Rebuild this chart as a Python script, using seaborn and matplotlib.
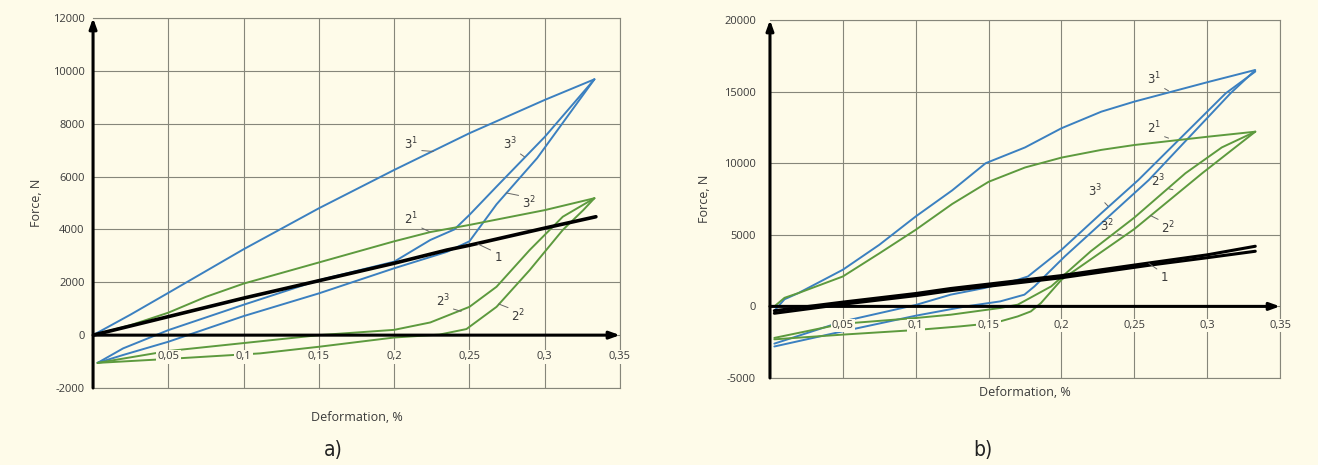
import matplotlib
matplotlib.use("Agg")
import matplotlib.pyplot as plt
import numpy as np
import pandas as pd
import seaborn as sns

sns.set_theme(style="white")
plt.rcParams["font.family"] = ["Open Sans", "DejaVu Sans"]
plt.rcParams["mathtext.fontset"] = "dejavusans"

BG = "#fefbe9"
BLUE = "#3b80c0"
GREEN = "#5d9a3e"
GRID = "#86867a"
TXT = "#3a3a3a"

# ---------------- data: panel a ----------------
a_x1 = [0, 0.05, 0.1, 0.15, 0.2, 0.235, 0.25, 0.3, 0.334]
a_f1 = [0, 700, 1400, 2060, 2720, 3220, 3400, 4050, 4480]

a_x31 = [0, 0.025, 0.05, 0.1, 0.15, 0.2, 0.25, 0.3, 0.333]
a_f31 = [0, 780, 1600, 3250, 4800, 6250, 7640, 8900, 9680]

a_x33 = [0.003, 0.02, 0.05, 0.1, 0.15, 0.2, 0.224, 0.24, 0.25, 0.268, 0.3, 0.333]
a_f33 = [-1050, -500, 190, 1150, 2080, 2780, 3600, 4000, 4550, 5620, 7500, 9680]

a_x32 = [0.333, 0.295, 0.268, 0.25, 0.235, 0.2, 0.15, 0.1, 0.05, 0.02, 0.003]
a_f32 = [9680, 6700, 4950, 3550, 3150, 2530, 1580, 720, -250, -750, -1050]

a_x21 = [0, 0.025, 0.05, 0.075, 0.1, 0.15, 0.2, 0.224, 0.25, 0.3, 0.333]
a_f21 = [0, 380, 850, 1450, 1950, 2750, 3550, 3900, 4170, 4730, 5180]

a_x22 = [0.333, 0.3256, 0.312, 0.29, 0.268, 0.248, 0.23, 0.2, 0.15, 0.111, 0.05, 0.003]
a_f22 = [5180, 4730, 3980, 2460, 1070, 230, 20, -90, -440, -690, -900, -1050]

a_x23 = [0.003, 0.05, 0.1, 0.15, 0.2, 0.224, 0.25, 0.268, 0.29, 0.312, 0.333]
a_f23 = [-1050, -600, -300, 0, 200, 480, 1070, 1830, 3220, 4480, 5180]

# ---------------- data: panel b ----------------
b_x1 = [0.003, 0.05, 0.1, 0.124, 0.2, 0.2274, 0.262, 0.3, 0.333]
b_f1 = [-300, 300, 900, 1250, 2150, 2560, 3060, 3600, 4200]
b_f1b = [-480, 150, 750, 1100, 2000, 2400, 2900, 3400, 3850]

b_x31 = [0.003, 0.01, 0.0195, 0.05, 0.075, 0.1, 0.125, 0.148, 0.175, 0.2, 0.2274, 0.25, 0.3014, 0.3326]
b_f31 = [-300, 500, 930, 2560, 4300, 6280, 8100, 10000, 11100, 12440, 13600, 14300, 15690, 16500]

b_x21 = [0.003, 0.01, 0.0195, 0.05, 0.075, 0.1, 0.125, 0.15, 0.175, 0.2, 0.2274, 0.25, 0.3014, 0.333]
b_f21 = [0, 600, 930, 2090, 3700, 5350, 7150, 8700, 9700, 10390, 10930, 11270, 11860, 12200]

b_x33 = [0.003, 0.05, 0.1, 0.124, 0.147, 0.17, 0.177, 0.2, 0.2274, 0.2528, 0.3127, 0.333]
b_f33 = [-2600, -1050, 100, 820, 1280, 1860, 2090, 3950, 6510, 8830, 14880, 16400]

b_x32 = [0.333, 0.316, 0.26, 0.2023, 0.1815, 0.1746, 0.158, 0.1345, 0.1, 0.05, 0.003]
b_f32 = [16500, 14880, 8830, 3490, 1400, 820, 350, 0, -650, -1740, -2800]

b_x23 = [0.003, 0.05, 0.1, 0.124, 0.158, 0.17, 0.193, 0.22, 0.25, 0.2851, 0.31, 0.333]
b_f23 = [-2200, -1210, -810, -580, -110, 120, 1400, 3840, 6200, 9300, 11100, 12200]

b_x22 = [0.333, 0.2966, 0.25, 0.2, 0.186, 0.179, 0.17, 0.154, 0.13, 0.1, 0.05, 0.003]
b_f22 = [12200, 9300, 5400, 1860, 240, -350, -700, -1160, -1400, -1650, -1970, -2300]

# ---------------- ticks / labels ----------------
x_ticks = [0.05, 0.1, 0.15, 0.2, 0.25, 0.3, 0.35]
x_tick_labels = ["0,05", "0,1", "0,15", "0,2", "0,25", "0,3", "0,35"]
a_yticks = [-2000, 0, 2000, 4000, 6000, 8000, 10000, 12000]
b_yticks = [-5000, 0, 5000, 10000, 15000, 20000]
x_label = "Deformation, %"
y_label = "Force, N"

a_notes = [
    (r"$3^1$", (0.2115, 7250), (0.226, 6950)),
    (r"$3^3$", (0.277, 7250), (0.2865, 6750)),
    (r"$3^2$", (0.2895, 5000), (0.2745, 5380)),
    (r"$2^1$", (0.2115, 4400), (0.2233, 3920)),
    (r"$1$", (0.269, 2950), (0.2555, 3450)),
    (r"$2^3$", (0.2325, 1300), (0.2445, 900)),
    (r"$2^2$", (0.2825, 720), (0.2694, 1180)),
]
b_notes = [
    (r"$3^1$", (0.2637, 15900), (0.2735, 15050)),
    (r"$2^1$", (0.2637, 12450), (0.2735, 11750)),
    (r"$3^3$", (0.2231, 8050), (0.232, 7000)),
    (r"$2^3$", (0.2666, 8750), (0.2765, 8150)),
    (r"$3^2$", (0.2313, 5600), (0.241, 5000)),
    (r"$2^2$", (0.2734, 5450), (0.261, 6350)),
    (r"$1$", (0.2706, 2050), (0.26, 3000)),
]

fig = plt.figure(figsize=(13.18, 4.65), dpi=100)
fig.patch.set_facecolor(BG)
axA = fig.add_axes([0.0706, 0.1656, 0.3998, 0.7957])
axB = fig.add_axes([0.5842, 0.1871, 0.3870, 0.7699])


def curve(ax, xs, ys, color, lw, z=3):
    df = pd.DataFrame({"x": xs, "F": ys})
    sns.lineplot(data=df, x="x", y="F", sort=False, estimator=None,
                 color=color, lw=lw, ax=ax, zorder=z)


def style(ax, yticks, ylab_x, xlab_y, ytick_pad, xlab_off):
    ax.set_facecolor(BG)
    ax.set_xlim(0, 0.35)
    ax.set_ylim(yticks[0], yticks[-1])
    ax.set_axisbelow(True)
    ax.set_xticks(x_ticks)
    ax.set_yticks(yticks)
    ax.set_yticklabels([str(t) for t in yticks])
    ax.tick_params(axis="x", length=0, labelbottom=False)
    ax.tick_params(axis="y", length=0, pad=ytick_pad, labelsize=8, labelcolor=TXT)
    ax.grid(True, color=GRID, lw=0.8)
    for s in ["top", "right", "bottom"]:
        ax.spines[s].set_color(GRID)
        ax.spines[s].set_linewidth(0.8)
        ax.spines[s].set_visible(True)
    ax.spines["left"].set_visible(False)
    ax.set_xlabel(x_label, fontsize=9, color=TXT)
    ax.set_ylabel(y_label, fontsize=9, color=TXT)
    ax.xaxis.set_label_coords(0.5, xlab_y)
    ax.yaxis.set_label_coords(ylab_x, 0.5)
    ap = dict(arrowstyle="-|>,head_length=0.5,head_width=0.18", color="black",
              lw=2.2, shrinkA=0, shrinkB=0)
    ax.annotate("", xy=(0, yticks[-1]), xytext=(0, yticks[0]),
                arrowprops=ap, annotation_clip=False, zorder=6)
    ax.annotate("", xy=(0.35, 0), xytext=(0, 0),
                arrowprops=ap, annotation_clip=False, zorder=6)
    for v, s in zip(x_ticks, x_tick_labels):
        ax.annotate(s, xy=(v, 0), xytext=(0, xlab_off), textcoords="offset points",
                    ha="center", va="center", fontsize=8, color=TXT,
                    bbox=dict(boxstyle="square,pad=0.12", fc=BG, ec="none"),
                    zorder=7, annotation_clip=False)


def notes(ax, items):
    for t, xyt, xy in items:
        rx = 0.85 if xy[0] > xyt[0] else 0.1
        ry = 0.1 if xy[1] < xyt[1] else 0.9
        ax.annotate(t, xy=xy, xytext=xyt, ha="center", va="center",
                    fontsize=8.5, color=TXT, zorder=8,
                    arrowprops=dict(arrowstyle="-", color="#666666", lw=0.7,
                                    shrinkA=0, shrinkB=0, relpos=(rx, ry)))


# panel a
curve(axA, a_x31, a_f31, BLUE, 1.4)
curve(axA, a_x33, a_f33, BLUE, 1.4)
curve(axA, a_x32, a_f32, BLUE, 1.4)
curve(axA, a_x21, a_f21, GREEN, 1.4)
curve(axA, a_x22, a_f22, GREEN, 1.4)
curve(axA, a_x23, a_f23, GREEN, 1.4)
curve(axA, a_x1, a_f1, "black", 2.6, z=4)
style(axA, a_yticks, -0.095, -0.062, 6, -15.6)
notes(axA, a_notes)

# panel b
curve(axB, b_x31, b_f31, BLUE, 1.4)
curve(axB, b_x33, b_f33, BLUE, 1.4)
curve(axB, b_x32, b_f32, BLUE, 1.4)
curve(axB, b_x21, b_f21, GREEN, 1.4)
curve(axB, b_x23, b_f23, GREEN, 1.4)
curve(axB, b_x22, b_f22, GREEN, 1.4)
curve(axB, b_x1, b_f1, "black", 2.2, z=4)
curve(axB, b_x1, b_f1b, "black", 2.2, z=4)
style(axB, b_yticks, -0.116, -0.022, 10, -13.7)
notes(axB, b_notes)

cap_font = ["Liberation Sans Narrow", "DejaVu Sans"]
fig.text(333 / 1318, 1 - 450 / 465, "a)", ha="center", va="center",
         fontsize=15, color="#222222", family=cap_font, fontstretch="condensed")
fig.text(983 / 1318, 1 - 450 / 465, "b)", ha="center", va="center",
         fontsize=15, color="#222222", family=cap_font, fontstretch="condensed")

fig.savefig("out.png", dpi=100, facecolor=BG)
